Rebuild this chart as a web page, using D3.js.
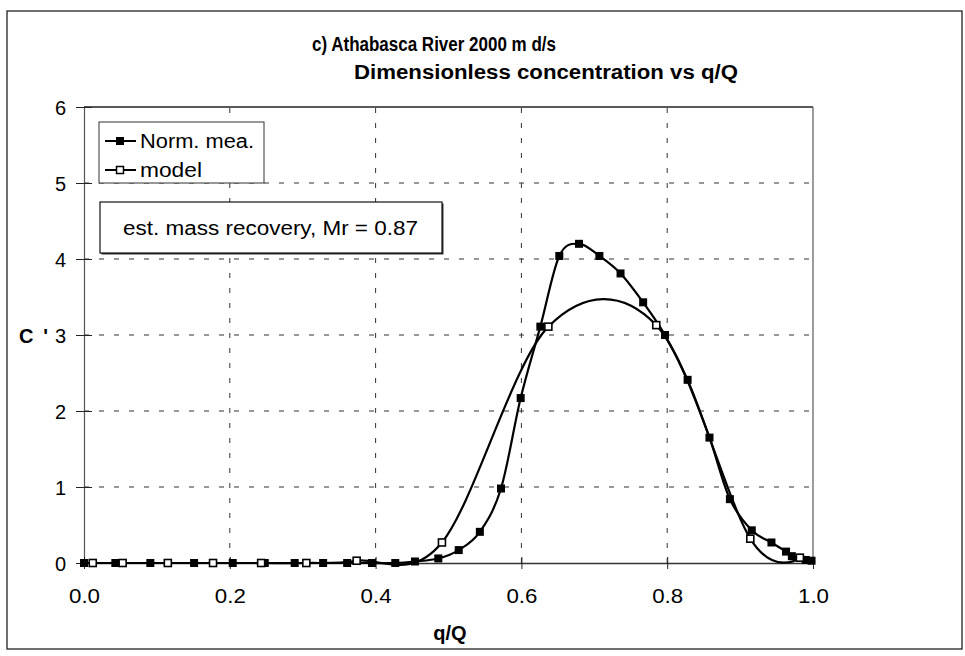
<!DOCTYPE html>
<html>
<head>
<meta charset="utf-8">
<script src="https://cdn.jsdelivr.net/npm/d3@7"></script>
<style>
  html, body { margin: 0; padding: 0; background: #fff; }
  svg { display: block; }
  text { font-family: Arial, "Liberation Sans", Helvetica, sans-serif; fill: #000; }
</style>
</head>
<body>
<svg id="chart" width="965" height="656"></svg>
<script>
// ---- data ----
const titleLines = ["c) Athabasca River 2000 m d/s", "Dimensionless concentration vs q/Q"];
const seriesNames = ["Norm. mea.", "model"];
const xTicks = [0.0, 0.2, 0.4, 0.6, 0.8, 1.0];
const yTicks = [0, 1, 2, 3, 4, 5, 6];
const xLabel = "q/Q";
const yLabel = "C '";
const noteText = "est. mass recovery, Mr = 0.87";

const measQ = [0.0, 0.043, 0.091, 0.151, 0.204, 0.248, 0.289, 0.328, 0.361, 0.395, 0.427, 0.454,
  0.486, 0.514, 0.543, 0.572, 0.599, 0.626, 0.652, 0.679, 0.707, 0.736, 0.767, 0.797,
  0.828, 0.858, 0.886, 0.916, 0.943, 0.963, 0.971, 0.990, 0.998];
const measC = [0, 0, 0, 0, 0, 0, 0, 0, 0, 0, 0, 0.02,
  0.06, 0.17, 0.41, 0.98, 2.17, 3.11, 4.04, 4.20, 4.04, 3.81, 3.43, 3.00,
  2.41, 1.65, 0.84, 0.43, 0.27, 0.15, 0.09, 0.04, 0.03];

const modelQ = [0.012, 0.053, 0.115, 0.177, 0.243, 0.305, 0.374, 0.491, 0.637, 0.785, 0.914, 0.982];
const modelC = [0, 0, 0, 0, 0, 0, 0.03, 0.27, 3.11, 3.13, 0.32, 0.07];

// ---- layout ----
const svg = d3.select("#chart");
const x = d3.scaleLinear().domain([0, 1]).range([84, 813]);
const y = d3.scaleLinear().domain([0, 6]).range([563, 107]);

// outer border
svg.append("rect").attr("x", 7).attr("y", 11).attr("width", 955).attr("height", 638)
  .attr("fill", "none").attr("stroke", "#222").attr("stroke-width", 1.3);

// title
const tW = [244, 384], tX = [312, 354], tY = [51, 79];
titleLines.forEach((t, i) => {
  svg.append("text").attr("x", tX[i]).attr("y", tY[i])
    .attr("font-size", 20).attr("font-weight", "bold")
    .attr("textLength", tW[i]).attr("lengthAdjust", "spacingAndGlyphs").text(t);
});

// grid
const g = svg.append("g");
g.selectAll(".hg").data(yTicks.filter(d => d > 0 && d < 6)).enter().append("line")
  .attr("x1", x(0)).attr("x2", x(1)).attr("y1", d => y(d)).attr("y2", d => y(d))
  .attr("stroke", "#333").attr("stroke-width", 1).attr("stroke-dasharray", "5,10");
g.selectAll(".vg").data(xTicks.filter(d => d > 0 && d < 1)).enter().append("line")
  .attr("y1", y(0)).attr("y2", y(6)).attr("x1", d => x(d)).attr("x2", d => x(d))
  .attr("stroke", "#333").attr("stroke-width", 1).attr("stroke-dasharray", "5,10");

// frame: top and right
svg.append("line").attr("x1", x(0)).attr("x2", x(1)).attr("y1", y(6)).attr("y2", y(6))
  .attr("stroke", "#222").attr("stroke-width", 1.3);
svg.append("line").attr("x1", x(1)).attr("x2", x(1)).attr("y1", y(6)).attr("y2", y(0))
  .attr("stroke", "#666").attr("stroke-width", 1.3);

// axes
const yAxis = d3.axisLeft(y).tickValues(yTicks).tickFormat(d3.format("d")).tickSizeInner(8).tickSizeOuter(0).tickPadding(10);
const yg = svg.append("g").attr("transform", `translate(${x(0)},0)`).call(yAxis);
yg.select(".domain").attr("stroke", "#555").attr("stroke-width", 1.2);
yg.selectAll(".tick line").attr("stroke", "#222").attr("x2", 8).attr("x1", -8);
yg.selectAll(".tick text").attr("font-size", 20).attr("font-family", "Arial, 'Liberation Sans', sans-serif").attr("dy", "0.36em");

const xAxis = d3.axisBottom(x).tickValues(xTicks).tickFormat(d3.format(".1f")).tickSizeInner(6).tickSizeOuter(0).tickPadding(20);
const xg = svg.append("g").attr("transform", `translate(0,${y(0)})`).call(xAxis);
xg.select(".domain").attr("stroke", "#333").attr("stroke-width", 1.5);
xg.selectAll(".tick line").attr("stroke", "#222").attr("y1", -6).attr("y2", 6);
xg.selectAll(".tick text").attr("font-size", 20).attr("font-family", "Arial, 'Liberation Sans', sans-serif")
  .attr("textLength", 31).attr("lengthAdjust", "spacingAndGlyphs");

// axis titles
svg.append("text").attr("x", 450).attr("y", 640).attr("text-anchor", "middle")
  .attr("font-size", 20).attr("font-weight", "bold").text(xLabel);
svg.append("text").attr("x", 19).attr("y", 343)
  .attr("font-size", 20).attr("font-weight", "bold").attr("xml:space", "preserve")
  .attr("textLength", 29).attr("lengthAdjust", "spacing").text(yLabel);

// lines
const line = d3.line().x(d => x(d[0])).y(d => y(d[1])).curve(d3.curveCardinal.tension(0));
const measData = measQ.map((q, i) => [q, measC[i]]);
const modelData = modelQ.map((q, i) => [q, modelC[i]]);

svg.append("path").datum(measData).attr("d", line)
  .attr("fill", "none").attr("stroke", "#000").attr("stroke-width", 2.2);
svg.selectAll(".mm").data(measData).enter().append("rect")
  .attr("x", d => x(d[0]) - 4).attr("y", d => y(d[1]) - 4).attr("width", 8).attr("height", 8)
  .attr("fill", "#000");

svg.append("path").datum(modelData).attr("d", line)
  .attr("fill", "none").attr("stroke", "#000").attr("stroke-width", 2.2);
svg.selectAll(".om").data(modelData).enter().append("rect")
  .attr("x", d => x(d[0]) - 3.5).attr("y", d => y(d[1]) - 3.5).attr("width", 7).attr("height", 7)
  .attr("fill", "#fff").attr("stroke", "#000").attr("stroke-width", 1.6);

// legend
const lg = svg.append("g");
lg.append("rect").attr("x", 99).attr("y", 122).attr("width", 165).attr("height", 61)
  .attr("fill", "#fff").attr("stroke", "#333").attr("stroke-width", 1);
const legY = [141, 170];
seriesNames.forEach((n, i) => {
  lg.append("line").attr("x1", 105).attr("x2", 136).attr("y1", legY[i]).attr("y2", legY[i])
    .attr("stroke", "#000").attr("stroke-width", 2);
  if (i === 0) {
    lg.append("rect").attr("x", 116).attr("y", legY[i] - 4).attr("width", 8).attr("height", 8).attr("fill", "#000");
  } else {
    lg.append("rect").attr("x", 116.5).attr("y", legY[i] - 3.5).attr("width", 7).attr("height", 7)
      .attr("fill", "#fff").attr("stroke", "#000").attr("stroke-width", 1.5);
  }
  lg.append("text").attr("x", 140).attr("y", legY[i] + 7).attr("font-size", 20)
    .attr("textLength", i === 0 ? 114 : 62).attr("lengthAdjust", "spacingAndGlyphs").text(n);
});

// note box
svg.append("rect").attr("x", 101.5).attr("y", 203.5).attr("width", 342).attr("height", 51)
  .attr("fill", "#333");
svg.append("rect").attr("x", 100).attr("y", 202).attr("width", 342).attr("height", 51)
  .attr("fill", "#fff").attr("stroke", "#111").attr("stroke-width", 1.2);
svg.append("text").attr("x", 123).attr("y", 235).attr("font-size", 20)
  .attr("textLength", 295).attr("lengthAdjust", "spacingAndGlyphs").text(noteText);
</script>
</body>
</html>
